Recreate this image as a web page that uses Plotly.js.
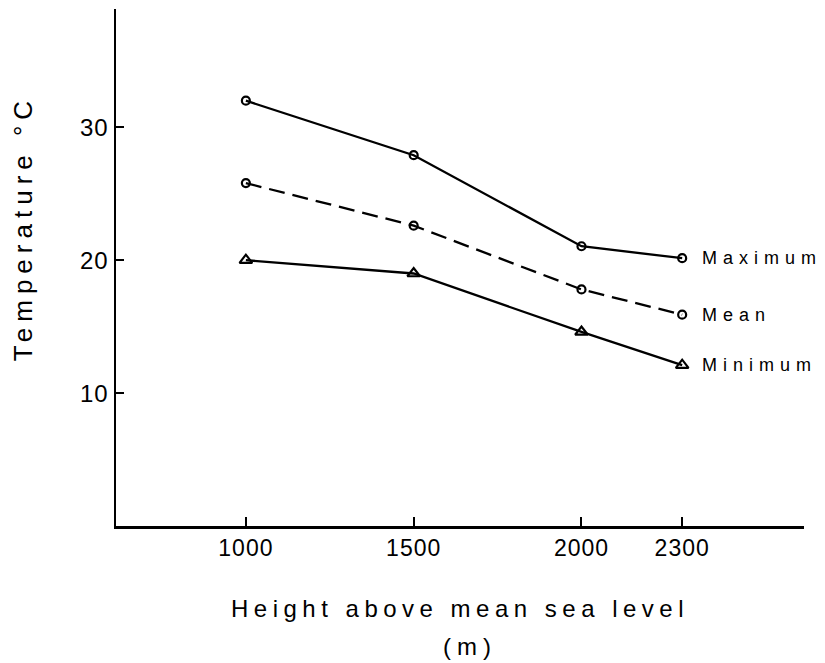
<!DOCTYPE html>
<html><head><meta charset="utf-8">
<script src="https://cdn.plot.ly/plotly-3.0.1.min.js"></script>
<style>
html,body{margin:0;padding:0;background:#fff}
#chart{width:825px;height:663px}
.xtick text,.ytick text{letter-spacing:1px}
.annotation-text{letter-spacing:6px}
.xtitle,.ytitle{letter-spacing:5.5px}
</style></head><body><div id="chart"></div>
<script>
const heights = [1000, 1500, 2000, 2300];
const tMax = [32.0, 27.9, 21.05, 20.15];
const tMean = [25.8, 22.6, 17.8, 15.9];
const tMin = [20.0, 19.0, 14.6, 12.1];
const seriesNames = ['Maximum', 'Mean', 'Minimum'];
const xTickVals = [1000, 1500, 2000, 2300];
const xTickText = ['1000', '1500', '2000', '2300'];
const yTickVals = [10, 20, 30];
const yTickText = ['10', '20', '30'];
const xTitle = 'Height above mean sea level';
const xUnit = '(m)';
const yTitle = 'Temperature °C';

const FONT = 'Liberation Sans, Arial, sans-serif';
const series = [tMax, tMean, tMin];
const styles = [
  {dash: 'solid', symbol: 'circle-open', size: 8},
  {dash: '16px,8px', symbol: 'circle-open', size: 8},
  {dash: 'solid', symbol: 'triangle-up-open', size: 11}
];
const traces = series.map((ys, i) => ({
  x: heights, y: ys, name: seriesNames[i], type: 'scatter', mode: 'lines+markers',
  line: {color: '#000', width: 2.3, dash: styles[i].dash},
  marker: {symbol: styles[i].symbol, size: styles[i].size, color: '#000', line: {color: '#000', width: 2.2}},
  showlegend: false, hoverinfo: 'skip'
}));
const annotations = series.map((ys, i) => ({
  x: heights[heights.length - 1], y: ys[ys.length - 1], xref: 'x', yref: 'y',
  text: seriesNames[i], showarrow: false, xanchor: 'left', yanchor: 'middle', xshift: 18,
  font: {family: FONT, size: 18, color: '#000'}
}));
annotations.push({
  x: 0, y: 0.576, xref: 'paper', yref: 'paper', xanchor: 'center', yanchor: 'middle',
  xshift: -93, textangle: -90, text: yTitle, showarrow: false,
  font: {family: FONT, size: 26, color: '#000'}
});
annotations.push({
  x: 0.515, y: -0.234, xref: 'paper', yref: 'paper', xanchor: 'center', yanchor: 'middle',
  text: xUnit, showarrow: false,
  font: {family: FONT, size: 24, color: '#000'}
});
const layout = {
  width: 825, height: 663,
  margin: {l: 116, r: 21, t: 9, b: 137},
  paper_bgcolor: '#fff', plot_bgcolor: '#fff',
  font: {family: FONT, color: '#000'},
  xaxis: {
    range: [613, 2663], tickvals: xTickVals, ticktext: xTickText,
    showgrid: false, zeroline: false, showline: true, linecolor: '#000', linewidth: 2.5,
    ticks: 'inside', ticklen: 9, tickwidth: 2, tickcolor: '#000',
    tickfont: {family: FONT, size: 23, color: '#000'},
    title: {text: xTitle, font: {family: FONT, size: 24, color: '#000'}, standoff: 40},
    automargin: false
  },
  yaxis: {
    range: [0, 38.9], tickvals: yTickVals, ticktext: yTickText,
    showgrid: false, zeroline: false, showline: true, linecolor: '#000', linewidth: 2.5,
    ticks: 'inside', ticklen: 8, tickwidth: 2, tickcolor: '#000',
    tickfont: {family: FONT, size: 24, color: '#000'},
    automargin: false
  },
  annotations: annotations
};
Plotly.newPlot('chart', traces, layout, {staticPlot: true, displayModeBar: false});
</script></body></html>
